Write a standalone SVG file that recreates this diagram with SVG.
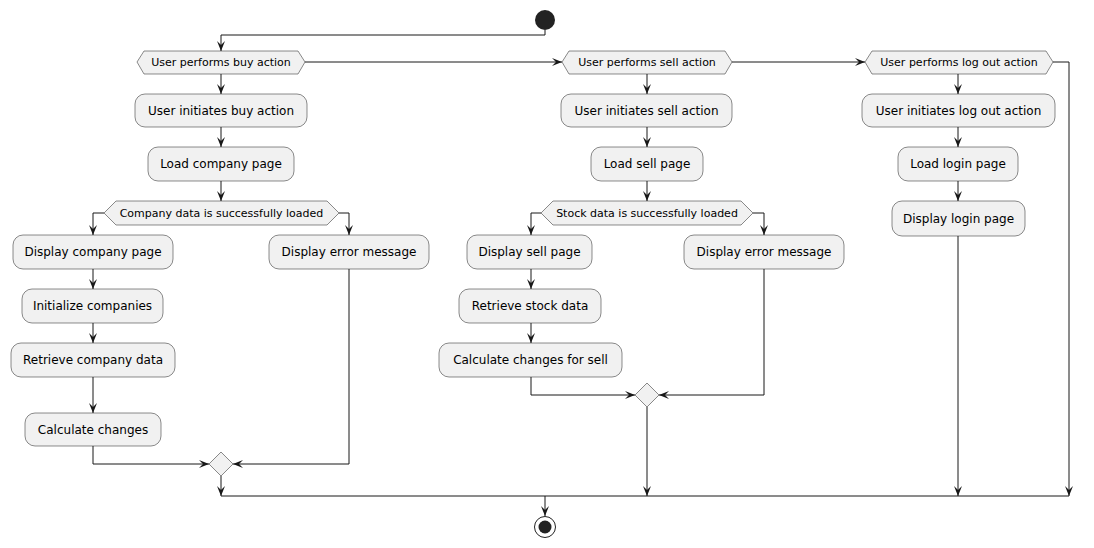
<svg xmlns="http://www.w3.org/2000/svg" width="1094" height="548" viewBox="0 0 1094 548">
<defs>
<marker id="arr" markerUnits="userSpaceOnUse" markerWidth="10" markerHeight="8" refX="10" refY="4" orient="auto" overflow="visible">
<path d="M0,0 L10,4 L0,8 L4,4 Z" fill="#181818"/>
</marker>
<style>
.box{fill:#F1F1F1;stroke:#181818;stroke-width:0.5}
.t{font-family:"DejaVu Sans",sans-serif;font-size:12px;fill:#000;text-anchor:middle}
.h{font-family:"DejaVu Sans",sans-serif;font-size:11px;fill:#000;text-anchor:middle}
.c{fill:none;stroke:#181818;stroke-width:1}
.a{marker-end:url(#arr)}
</style>
</defs>
<rect width="1094" height="548" fill="#fff"/>
<g id="connectors">
<path class="c a" d="M545,30 V35 H221 V51"/>
<path class="c a" d="M305,62 H562"/>
<path class="c a" d="M732,62 H865"/>
<path class="c a" d="M1053,62 H1069 V496"/>
<path class="c a" d="M221,74 V94"/>
<path class="c a" d="M221,127 V147"/>
<path class="c a" d="M221,181 V201"/>
<path class="c a" d="M104,213 H93 V235"/>
<path class="c a" d="M339,213 H349 V235"/>
<path class="c a" d="M93,269 V289"/>
<path class="c a" d="M93,323 V343"/>
<path class="c a" d="M93,377 V413"/>
<path class="c a" d="M93,446 V464 H209"/>
<path class="c a" d="M349,269 V464 H233"/>
<path class="c a" d="M221,476 V496"/>
<path class="c" d="M221,496 H1069"/>
<path class="c a" d="M545,496 V516"/>
<path class="c a" d="M647,74 V94"/>
<path class="c a" d="M647,127 V147"/>
<path class="c a" d="M647,181 V201"/>
<path class="c a" d="M541,213 H531 V235"/>
<path class="c a" d="M753,213 H764 V235"/>
<path class="c a" d="M531,269 V289"/>
<path class="c a" d="M531,323 V343"/>
<path class="c a" d="M531,377 V395 H635"/>
<path class="c a" d="M764,269 V395 H659"/>
<path class="c a" d="M647,407 V496"/>
<path class="c a" d="M958,74 V94"/>
<path class="c a" d="M958,127 V147"/>
<path class="c a" d="M958,181 V201"/>
<path class="c a" d="M958,236 V496"/>
</g>
<g id="start"><circle cx="545" cy="20" r="10" fill="#222"/></g>
<g id="end"><circle cx="545" cy="527" r="10.5" fill="none" stroke="#222" stroke-width="1"/><circle cx="545" cy="527" r="6.5" fill="#222"/></g>

<g id="buy-decision"><polygon class="box" points="137,62 144,51 298,51 305,62 298,74 144,74"/><text class="h" x="221" y="66">User performs buy action</text></g>
<g id="sell-decision"><polygon class="box" points="562,62 569,51 725,51 732,62 725,74 569,74"/><text class="h" x="647" y="66">User performs sell action</text></g>
<g id="logout-decision"><polygon class="box" points="865,62 872,51 1046,51 1053,62 1046,74 872,74"/><text class="h" x="959" y="66">User performs log out action</text></g>

<g id="buy-init"><rect class="box" x="135" y="94" width="172" height="33" rx="10"/><text class="t" x="221" y="115">User initiates buy action</text></g>
<g id="load-company"><rect class="box" x="148" y="147" width="146" height="34" rx="10"/><text class="t" x="221" y="168">Load company page</text></g>
<g id="company-decision"><polygon class="box" points="104,213 116,201 327,201 339,213 327,225 116,225"/><text class="h" x="221.5" y="217">Company data is successfully loaded</text></g>
<g id="display-company"><rect class="box" x="13" y="235" width="160" height="34" rx="10"/><text class="t" x="93" y="256">Display company page</text></g>
<g id="error-buy"><rect class="box" x="269" y="235" width="160" height="34" rx="10"/><text class="t" x="349" y="256">Display error message</text></g>
<g id="init-companies"><rect class="box" x="22" y="289" width="141" height="34" rx="10"/><text class="t" x="92.5" y="310">Initialize companies</text></g>
<g id="retrieve-company"><rect class="box" x="11" y="343" width="164" height="34" rx="10"/><text class="t" x="93" y="364">Retrieve company data</text></g>
<g id="calc-changes"><rect class="box" x="25" y="413" width="136" height="33" rx="10"/><text class="t" x="93" y="434">Calculate changes</text></g>
<g id="merge-buy"><polygon class="box" points="221,452 233,464 221,476 209,464"/></g>

<g id="sell-init"><rect class="box" x="561" y="94" width="171" height="33" rx="10"/><text class="t" x="646.5" y="115">User initiates sell action</text></g>
<g id="load-sell"><rect class="box" x="591" y="147" width="112" height="34" rx="10"/><text class="t" x="647" y="168">Load sell page</text></g>
<g id="stock-decision"><polygon class="box" points="541,213 553,201 741,201 753,213 741,225 553,225"/><text class="h" x="647" y="217">Stock data is successfully loaded</text></g>
<g id="display-sell"><rect class="box" x="467" y="235" width="125" height="34" rx="10"/><text class="t" x="529.5" y="256">Display sell page</text></g>
<g id="error-sell"><rect class="box" x="684" y="235" width="160" height="34" rx="10"/><text class="t" x="764" y="256">Display error message</text></g>
<g id="retrieve-stock"><rect class="box" x="459" y="289" width="142" height="34" rx="10"/><text class="t" x="530" y="310">Retrieve stock data</text></g>
<g id="calc-sell"><rect class="box" x="439" y="343" width="183" height="34" rx="10"/><text class="t" x="530.5" y="364">Calculate changes for sell</text></g>
<g id="merge-sell"><polygon class="box" points="647,383 659,395 647,407 635,395"/></g>

<g id="logout-init"><rect class="box" x="862" y="94" width="193" height="33" rx="10"/><text class="t" x="958.5" y="115">User initiates log out action</text></g>
<g id="load-login"><rect class="box" x="898" y="147" width="120" height="34" rx="10"/><text class="t" x="958" y="168">Load login page</text></g>
<g id="display-login"><rect class="box" x="892" y="201" width="133" height="35" rx="10"/><text class="t" x="958.5" y="223">Display login page</text></g>
</svg>
